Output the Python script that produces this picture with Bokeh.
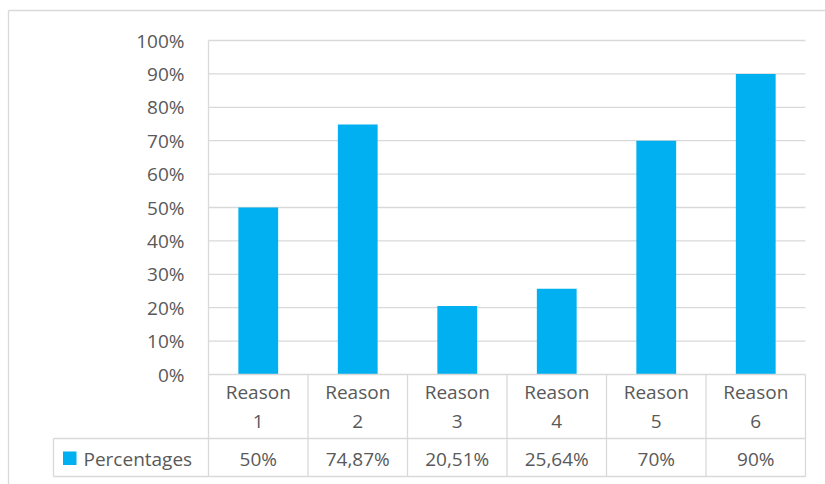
from bokeh.plotting import figure
from bokeh.models import Range1d, ColumnDataSource
from bokeh.embed import file_html
from bokeh.resources import INLINE
from bokeh.core.properties import value

# ---- data ----
categories = ["Reason 1", "Reason 2", "Reason 3", "Reason 4", "Reason 5", "Reason 6"]
percentages = [50, 74.87, 20.51, 25.64, 70, 90]
table_labels = ["50%", "74,87%", "20,51%", "25,64%", "70%", "90%"]
y_ticks = [0, 10, 20, 30, 40, 50, 60, 70, 80, 90, 100]
series_name = "Percentages"

# ---- layout (pixels) ----
W, H = 825, 484
PL, PR = 208, 805          # plot area left/right
PT, PB = 40, 374           # 100% / 0% pixel rows
n = len(categories)
colw = (PR - PL) / n
pxy = (PB - PT) / 100.0

def X(px):  # pixel x -> data x
    return (px - PL) / colw

def Y(py):  # pixel y (from top) -> data y
    return (PB - py) / pxy

GRID = "#d9d9d9"
TXT = "#595959"
BAR = "#00b0f0"
FONT = value("Open Sans")
FS = "19px"

p = figure(width=W, height=H, output_backend="svg", toolbar_location=None,
           x_range=Range1d(X(0), X(W)), y_range=Range1d(Y(H), Y(0)),
           min_border=0)
p.axis.visible = False
p.grid.visible = False
p.outline_line_color = None
p.background_fill_color = "white"

# outer chart border (top and left)
p.segment(x0=[X(8), X(8)], y0=[Y(10), Y(10)], x1=[X(W), X(8)], y1=[Y(10), Y(H)],
          line_color=GRID, line_width=1.3)

# gridlines
p.segment(x0=[0] * (len(y_ticks) - 1), y0=y_ticks[1:], x1=[n] * (len(y_ticks) - 1), y1=y_ticks[1:],
          line_color=GRID, line_width=1.3)

# bars
xc = [i + 0.5 for i in range(n)]
src = ColumnDataSource(dict(x=xc, top=percentages, cat=categories, lab=table_labels))
p.vbar(x="x", top="top", bottom=0, width=0.40, source=src, fill_color=BAR, line_color=None)

# y tick labels
p.text(x=[X(184)] * len(y_ticks), y=y_ticks, text=[f"{t}%" for t in y_ticks],
       text_align="right", text_baseline="middle", text_color=TXT,
       text_font=FONT, text_font_size=FS)

# table lines
row1 = Y(438)
row2 = Y(476)
# axis line and y axis line
p.segment(x0=[0, 0], y0=[0, 100], x1=[n, 0], y1=[0, 0], line_color=GRID, line_width=1.3)
# vertical cell lines
p.segment(x0=list(range(n + 1)), y0=[0] * (n + 1), x1=list(range(n + 1)), y1=[row2] * (n + 1),
          line_color=GRID, line_width=1.3)
# horizontal table lines
p.segment(x0=[X(53), X(53)], y0=[row1, row2], x1=[n, n], y1=[row1, row2],
          line_color=GRID, line_width=1.3)
p.segment(x0=[X(53)], y0=[row1], x1=[X(53)], y1=[row2], line_color=GRID, line_width=1.3)

# category labels (two lines)
p.text(x=xc, y=[Y(391)] * n, text=[c.split(" ")[0] for c in categories],
       text_align="center", text_baseline="middle", text_color=TXT, text_font=FONT, text_font_size=FS)
p.text(x=xc, y=[Y(421)] * n, text=[c.split(" ")[1] for c in categories],
       text_align="center", text_baseline="middle", text_color=TXT, text_font=FONT, text_font_size=FS)

# values row
p.text(x=xc, y=[Y(458)] * n, text=table_labels,
       text_align="center", text_baseline="middle", text_color=TXT, text_font=FONT, text_font_size=FS)

# legend key
p.quad(left=[X(62.5)], right=[X(76)], top=[Y(451)], bottom=[Y(464.5)], fill_color=BAR, line_color=None)
p.text(x=[X(83)], y=[Y(458)], text=[series_name], text_align="left", text_baseline="middle",
       text_color=TXT, text_font=FONT, text_font_size=FS)

open("out.html", "w").write(file_html(p, INLINE))
